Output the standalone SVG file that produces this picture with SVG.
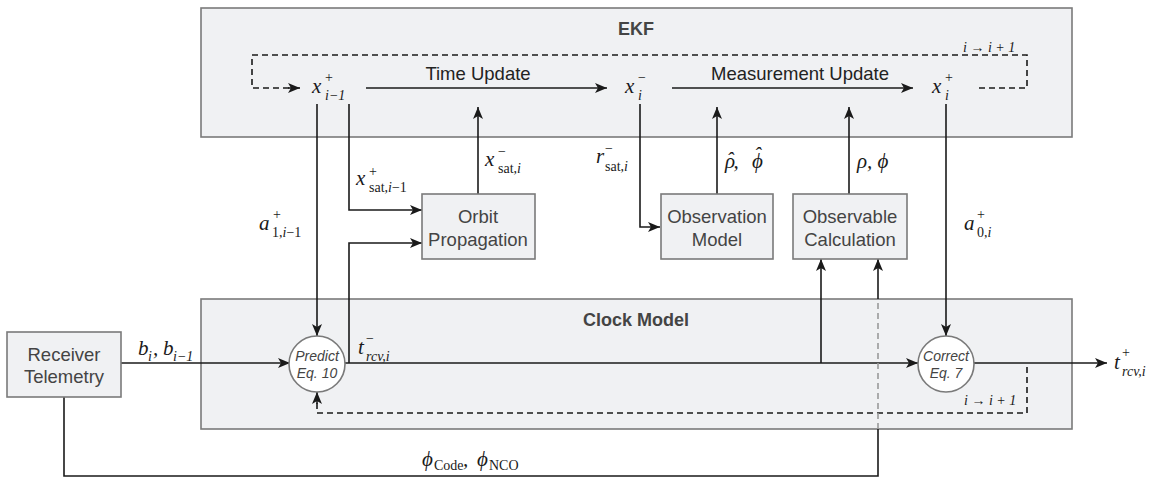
<svg xmlns="http://www.w3.org/2000/svg" width="1161" height="477" viewBox="0 0 1161 477">
<style>
.cont{fill:#f0f1f3;stroke:#7a7a7a;stroke-width:1.6}
.box{fill:#f0f1f3;stroke:#7a7a7a;stroke-width:1.6}
.circ{fill:#ffffff;stroke:#7a7a7a;stroke-width:1.6}
.title{font-family:"Liberation Sans",Arial,sans-serif;font-weight:bold;font-size:18px;fill:#444;text-anchor:middle}
.lbl{font-family:"Liberation Sans",Arial,sans-serif;font-size:18.5px;fill:#444;text-anchor:middle}
.upd{font-family:"Liberation Sans",Arial,sans-serif;font-size:18.5px;fill:#222;text-anchor:middle}
.eq{font-family:"Liberation Sans",Arial,sans-serif;font-style:italic;font-size:14px;fill:#444;text-anchor:middle}
.m{font-family:"Liberation Serif","Times New Roman",serif;font-style:italic;font-size:21px;fill:#1a1a1a}
.s{font-family:"Liberation Serif","Times New Roman",serif;font-style:italic;font-size:14px;fill:#1a1a1a}
.su{font-family:"Liberation Serif","Times New Roman",serif;font-size:14px;fill:#1a1a1a}
.sm{font-family:"Liberation Serif","Times New Roman",serif;font-size:14px;fill:#1a1a1a}
.ln{fill:none;stroke:#1a1a1a;stroke-width:1.6}
.arr{marker-end:url(#ah)}
.dash{stroke-dasharray:6 4}
.gd{fill:none;stroke:#9a9a9a;stroke-width:1.6;stroke-dasharray:6 4}
</style>
<defs>
<marker id="ah" viewBox="0 0 12 10" refX="12" refY="5" markerWidth="12" markerHeight="10" markerUnits="userSpaceOnUse" orient="auto">
<path d="M0,0 L12,5 L0,10 L3,5 z" fill="#1a1a1a"/>
</marker>
</defs>

<g id="ekf">
<rect class="cont" x="201" y="8" width="871" height="129"/>
<text class="title" x="636" y="35">EKF</text>
</g>
<g id="clock-model">
<rect class="cont" x="201" y="299" width="871" height="130"/>
<text class="title" x="636" y="326">Clock Model</text>
</g>

<g id="connectors">
<path class="ln dash" d="M979,88 H1027 V55 H252 V88 H290"/>
<path class="ln arr" d="M288,88 H300"/>
<path class="ln arr" d="M366,88 H607"/>
<path class="ln arr" d="M672,88 H913"/>
<text class="upd" x="478" y="80">Time Update</text>
<text class="upd" x="800" y="80">Measurement Update</text>
<path class="ln arr" d="M317,104 V336"/>
<path class="ln arr" d="M349,104 V210 H422"/>
<path class="ln arr" d="M349,363 V243 H422"/>
<path class="ln arr" d="M478,194 V107"/>
<path class="ln arr" d="M640,104 V227 H660"/>
<path class="ln arr" d="M717,194 V107"/>
<path class="ln arr" d="M849,194 V107"/>
<path class="ln arr" d="M946,104 V336"/>
<path class="ln arr" d="M121,363 H290"/>
<path class="ln arr" d="M344,363 H918"/>
<path class="ln arr" d="M821,363 V259"/>
<path class="ln arr" d="M973,363 H1107"/>
<path class="ln dash" d="M1027,367 V413 H317 V402"/>
<path class="ln arr" d="M317,404 V392"/>
<path class="ln" d="M64,397 V476 H878 V429"/>
<path class="gd" d="M878,429 V299"/>
<path class="ln arr" d="M878,299 V259"/>
</g>

<g id="orbit-propagation">
<rect class="box" x="422" y="194" width="113" height="65"/>
<text class="lbl" x="478" y="223">Orbit</text>
<text class="lbl" x="478" y="246">Propagation</text>
</g>
<g id="observation-model">
<rect class="box" x="661" y="194" width="112" height="65"/>
<text class="lbl" x="717" y="223">Observation</text>
<text class="lbl" x="717" y="246">Model</text>
</g>
<g id="observable-calculation">
<rect class="box" x="793" y="194" width="114" height="65"/>
<text class="lbl" x="850" y="223">Observable</text>
<text class="lbl" x="850" y="246">Calculation</text>
</g>
<g id="receiver-telemetry">
<rect class="box" x="7" y="332" width="114" height="65"/>
<text class="lbl" x="64" y="361">Receiver</text>
<text class="lbl" x="64" y="383">Telemetry</text>
</g>
<g id="predict">
<circle class="circ" cx="317" cy="364" r="28"/>
<text class="eq" x="317" y="361">Predict</text>
<text class="eq" x="317" y="378">Eq. 10</text>
</g>
<g id="correct">
<circle class="circ" cx="946" cy="364" r="28"/>
<text class="eq" x="946" y="361">Correct</text>
<text class="eq" x="946" y="378">Eq. 7</text>
</g>

<g id="labels">
<text class="m" x="312" y="93">x</text>
<text class="su" x="325" y="82">+</text>
<text class="s" x="325" y="100">i<tspan class="su">−1</tspan></text>
<text class="m" x="625" y="93">x</text>
<text class="su" x="638" y="82">−</text>
<text class="s" x="638" y="100">i</text>
<text class="m" x="932" y="93">x</text>
<text class="su" x="945" y="82">+</text>
<text class="s" x="945" y="100">i</text>
<text class="s" x="963" y="52">i <tspan class="sm">→</tspan> i <tspan class="sm">+ 1</tspan></text>
<text class="m" x="356" y="185">x</text>
<text class="su" x="369" y="176">+</text>
<text class="su" x="369" y="192">sat,<tspan class="s">i</tspan>−1</text>
<text class="m" x="485" y="166">x</text>
<text class="su" x="498" y="156">−</text>
<text class="su" x="498" y="173">sat,<tspan class="s">i</tspan></text>
<text class="m" x="259" y="230">a</text>
<text class="su" x="273" y="219">+</text>
<text class="su" x="272" y="237">1,<tspan class="s">i</tspan>−1</text>
<text class="m" x="596" y="163">r</text>
<text class="su" x="605" y="153">−</text>
<text class="su" x="605" y="171">sat,<tspan class="s">i</tspan></text>
<text class="m" x="725" y="168">ρ<tspan dx="-8.5" dy="-1">ˆ</tspan><tspan dy="1">,</tspan><tspan x="752">ϕ</tspan><tspan dx="-9" dy="-6">ˆ</tspan></text>
<text class="m" x="857" y="168">ρ,  ϕ</text>
<text class="m" x="964" y="230">a</text>
<text class="su" x="977" y="219">+</text>
<text class="su" x="977" y="237">0,<tspan class="s">i</tspan></text>
<text class="m" x="138" y="355">b</text>
<text class="s" x="148" y="361">i</text>
<text class="m" x="153" y="355">,</text>
<text class="m" x="163" y="355">b</text>
<text class="s" x="173" y="361">i<tspan class="su">−1</tspan></text>
<text class="m" x="358" y="354">t</text>
<text class="su" x="366" y="343">−</text>
<text class="s" x="366" y="361">rcv,i</text>
<text class="m" x="1114" y="369">t</text>
<text class="su" x="1122" y="357">+</text>
<text class="s" x="1122" y="376">rcv,i</text>
<text class="s" x="964" y="405">i <tspan class="sm">→</tspan> i <tspan class="sm">+ 1</tspan></text>
<text class="m" x="422" y="466">ϕ</text>
<text class="su" x="434" y="470">Code</text>
<text class="m" x="463" y="466">,</text>
<text class="m" x="477" y="466">ϕ</text>
<text class="su" x="489" y="470">NCO</text>
</g>
</svg>
